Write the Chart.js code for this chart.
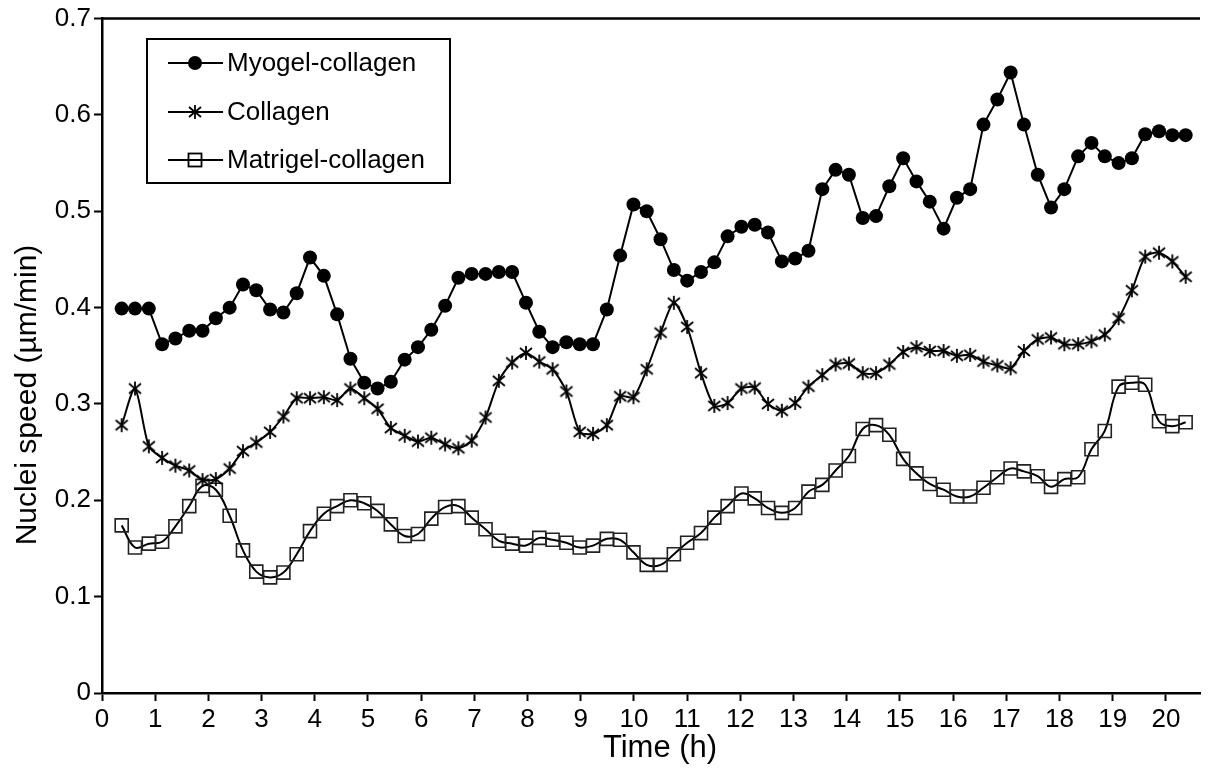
<!DOCTYPE html>
<html lang="en">
<head>
<meta charset="UTF-8">
<title>Nuclei speed</title>
<style>
  html, body { margin: 0; padding: 0; background: #fff; }
</style>
</head>
<body>
<canvas id="myChart" width="1216" height="773"></canvas>
<script src="https://cdn.jsdelivr.net/npm/chart.js"></script>
<script>
// time points (h)
const times = [
  0.37, 0.62, 0.88, 1.13, 1.38, 1.64, 1.89, 2.14, 2.40, 2.65,
  2.90, 3.16, 3.41, 3.66, 3.91, 4.17, 4.42, 4.67, 4.93, 5.18,
  5.43, 5.69, 5.94, 6.19, 6.45, 6.70, 6.95, 7.21, 7.46, 7.71,
  7.97, 8.22, 8.47, 8.73, 8.98, 9.23, 9.49, 9.74, 9.99, 10.24,
  10.50, 10.75, 11.00, 11.26, 11.51, 11.76, 12.02, 12.27, 12.52, 12.78,
  13.03, 13.28, 13.54, 13.79, 14.04, 14.30, 14.55, 14.80, 15.06, 15.31,
  15.56, 15.82, 16.07, 16.32, 16.57, 16.83, 17.08, 17.33, 17.59, 17.84,
  18.09, 18.35, 18.60, 18.85, 19.11, 19.36, 19.61, 19.87, 20.12, 20.37
];

const myogel = [
  0.399, 0.399, 0.399, 0.362, 0.368, 0.376, 0.376, 0.389, 0.400, 0.424,
  0.418, 0.398, 0.395, 0.415, 0.452, 0.433, 0.393, 0.347, 0.322, 0.316,
  0.323, 0.346, 0.359, 0.377, 0.402, 0.431, 0.435, 0.435, 0.437, 0.437,
  0.405, 0.375, 0.359, 0.364, 0.362, 0.362, 0.398, 0.454, 0.507, 0.500,
  0.471, 0.439, 0.428, 0.437, 0.447, 0.474, 0.484, 0.486, 0.478, 0.448,
  0.451, 0.459, 0.523, 0.543, 0.538, 0.493, 0.495, 0.526, 0.555, 0.531,
  0.510, 0.482, 0.514, 0.523, 0.590, 0.616, 0.644, 0.590, 0.538, 0.504,
  0.523, 0.557, 0.571, 0.557, 0.550, 0.555, 0.580, 0.583, 0.579, 0.579
];

const collagen = [
  0.278, 0.316, 0.256, 0.244, 0.236, 0.231, 0.221, 0.222, 0.233, 0.251,
  0.260, 0.271, 0.287, 0.306, 0.306, 0.307, 0.304, 0.316, 0.306, 0.295,
  0.275, 0.267, 0.261, 0.265, 0.258, 0.254, 0.262, 0.286, 0.324, 0.343,
  0.353, 0.344, 0.336, 0.313, 0.271, 0.269, 0.278, 0.308, 0.307, 0.336,
  0.374, 0.405, 0.380, 0.332, 0.298, 0.301, 0.316, 0.317, 0.300, 0.293,
  0.301, 0.318, 0.330, 0.341, 0.342, 0.332, 0.332, 0.341, 0.354, 0.359,
  0.355, 0.355, 0.350, 0.351, 0.344, 0.340, 0.337, 0.355, 0.367, 0.369,
  0.362, 0.362, 0.365, 0.372, 0.389, 0.418, 0.453, 0.457, 0.448, 0.432
];

const matrigel = [
  0.174, 0.151, 0.155, 0.157, 0.173, 0.194, 0.215, 0.211, 0.184, 0.148,
  0.126, 0.120, 0.125, 0.144, 0.168, 0.186, 0.194, 0.200, 0.197, 0.189,
  0.175, 0.163, 0.165, 0.181, 0.193, 0.194, 0.182, 0.170, 0.158, 0.155,
  0.153, 0.161, 0.159, 0.156, 0.151, 0.153, 0.160, 0.159, 0.146, 0.133,
  0.133, 0.144, 0.156, 0.166, 0.182, 0.194, 0.207, 0.202, 0.192, 0.187,
  0.192, 0.209, 0.216, 0.231, 0.246, 0.274, 0.278, 0.268, 0.243, 0.228,
  0.217, 0.211, 0.204, 0.204, 0.213, 0.224, 0.233, 0.230, 0.225, 0.214,
  0.222, 0.224, 0.253, 0.272, 0.318, 0.322, 0.320, 0.282, 0.277, 0.281
];

const seriesNames = ['Myogel-collagen', 'Collagen', 'Matrigel-collagen'];
const xTicks = [0, 1, 2, 3, 4, 5, 6, 7, 8, 9, 10, 11, 12, 13, 14, 15, 16, 17, 18, 19, 20];
const xTitle = 'Time (h)';
const yTitle = 'Nuclei speed (µm/min)';

const FONT = '"Liberation Sans", Arial, sans-serif';

// asterisk marker for Collagen
function makeStar() {
  const c = document.createElement('canvas');
  c.width = 16; c.height = 16;
  const g = c.getContext('2d');
  g.strokeStyle = '#000';
  g.lineWidth = 1.8;
  g.beginPath();
  g.moveTo(8, 1); g.lineTo(8, 15);
  g.moveTo(2, 3); g.lineTo(14, 13);
  g.moveTo(14, 3); g.lineTo(2, 13);
  g.stroke();
  return c;
}
const star = makeStar();

function pts(vals) {
  return vals.map((v, i) => ({ x: times[i], y: v }));
}

// top frame line, axis titles, legend box
const extras = {
  id: 'extras',
  afterDraw(chart) {
    const ctx = chart.ctx;
    const a = chart.chartArea;
    ctx.save();
    ctx.strokeStyle = '#000';
    ctx.lineWidth = 2.5;
    ctx.beginPath();
    ctx.moveTo(a.left, a.top);
    ctx.lineTo(a.right, a.top);
    ctx.stroke();

    // axis titles
    ctx.fillStyle = '#000';
    ctx.textAlign = 'center';
    ctx.textBaseline = 'middle';
    ctx.font = '31px ' + FONT;
    ctx.fillText(xTitle, 660, 748);
    ctx.save();
    ctx.translate(28, 395);
    ctx.rotate(-Math.PI / 2);
    ctx.font = '30px ' + FONT;
    ctx.fillText(yTitle, 0, 0);
    ctx.restore();

    // legend
    const bx = 147, by = 39, bw = 303, bh = 144;
    ctx.fillStyle = '#fff';
    ctx.fillRect(bx, by, bw, bh);
    ctx.lineWidth = 2;
    ctx.strokeRect(bx, by, bw, bh);
    const rows = [63, 112, 160];
    ctx.font = '26px ' + FONT;
    ctx.textBaseline = 'middle';
    ctx.textAlign = 'left';
    chart.data.datasets.forEach((ds, i) => {
      const y = rows[i];
      ctx.strokeStyle = '#000';
      ctx.lineWidth = 2;
      ctx.beginPath();
      ctx.moveTo(168, y); ctx.lineTo(223, y);
      ctx.stroke();
      const mx = 195;
      if (i === 0) {
        ctx.fillStyle = '#000';
        ctx.beginPath(); ctx.arc(mx, y, 7, 0, Math.PI * 2); ctx.fill();
      } else if (i === 1) {
        ctx.drawImage(star, mx - 8, y - 8);
      } else {
        ctx.lineWidth = 1.8;
        ctx.strokeRect(mx - 6.5, y - 6.5, 13, 13);
      }
      ctx.fillStyle = '#000';
      ctx.fillText(ds.label, 227, y + 1);
    });
    ctx.restore();
  }
};

new Chart(document.getElementById('myChart'), {
  type: 'line',
  data: {
    datasets: [
      {
        label: seriesNames[0],
        data: pts(myogel),
        borderColor: '#000',
        borderWidth: 2,
        backgroundColor: '#000',
        pointStyle: 'circle',
        pointRadius: 7,
        pointBorderWidth: 0,
        tension: 0
      },
      {
        label: seriesNames[1],
        data: pts(collagen),
        borderColor: '#000',
        borderWidth: 2,
        pointStyle: star,
        pointRadius: 7,
        tension: 0.25
      },
      {
        label: seriesNames[2],
        data: pts(matrigel),
        borderColor: '#000',
        borderWidth: 2,
        backgroundColor: 'rgba(0,0,0,0)',
        pointStyle: 'rect',
        pointRadius: 9.2,
        pointBorderWidth: 1.6,
        pointBorderColor: '#222',
        tension: 0.4
      }
    ]
  },
  options: {
    responsive: false,
    animation: false,
    devicePixelRatio: 1,
    layout: { padding: { top: 16, right: 16, left: 0, bottom: 0 } },
    plugins: {
      legend: { display: false },
      tooltip: { enabled: false }
    },
    scales: {
      x: {
        type: 'linear',
        min: 0,
        max: 20.64,
        afterBuildTicks: s => { s.ticks = xTicks.map(v => ({ value: v })); },
        afterFit: s => { s.height = 80; },
        ticks: { stepSize: 1, autoSkip: false, maxRotation: 0, color: '#000', padding: 3, font: { family: FONT, size: 26 } },
        grid: { drawOnChartArea: false, drawTicks: true, tickLength: 8, tickColor: '#000', tickWidth: 2 },
        border: { display: true, color: '#000', width: 2.5 },
        title: { display: false }
      },
      y: {
        min: 0,
        max: 0.7,
        afterFit: s => { s.width = 102; },
        ticks: { stepSize: 0.1, color: '#000', padding: 3, font: { family: FONT, size: 26 } },
        grid: { drawOnChartArea: false, drawTicks: true, tickLength: 8, tickColor: '#000', tickWidth: 2 },
        border: { display: true, color: '#000', width: 2.5 },
        title: { display: false }
      }
    }
  },
  plugins: [extras]
});
</script>
</body>
</html>
